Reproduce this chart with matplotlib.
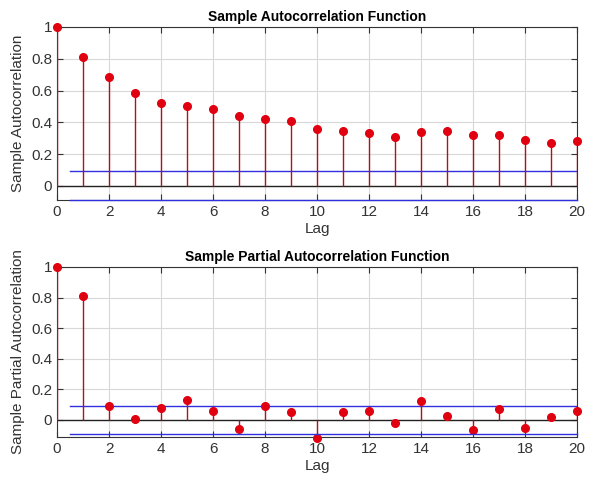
import numpy as np
import matplotlib
matplotlib.use("Agg")
import matplotlib.pyplot as plt

plt.rcParams['font.family'] = ['Liberation Sans', 'DejaVu Sans']

lags = list(range(21))
acf = [1.0, 0.813, 0.686, 0.585, 0.522, 0.503, 0.486, 0.438, 0.423, 0.411,
       0.358, 0.342, 0.331, 0.31, 0.34, 0.346, 0.317, 0.319, 0.287, 0.27, 0.283]
pacf = [1.0, 0.813, 0.087, 0.007, 0.076, 0.126, 0.054, -0.063, 0.087, 0.048,
        -0.12, 0.05, 0.057, -0.024, 0.124, 0.022, -0.07, 0.07, -0.057, 0.02, 0.054]
acf_bound = 0.09
pacf_bound = 0.0915

fig = plt.figure(figsize=(5.96, 4.83), dpi=100)
ax1 = fig.add_axes([57 / 596, 1 - 200 / 483, 520 / 596, 173 / 483])
ax2 = fig.add_axes([57 / 596, 1 - 437 / 483, 520 / 596, 170 / 483])

panels = [
    (ax1, acf, acf_bound, -0.0895, 'Sample Autocorrelation', 'Sample Autocorrelation Function'),
    (ax2, pacf, pacf_bound, -0.113, 'Sample Partial Autocorrelation', 'Sample Partial Autocorrelation Function'),
]

for ax, vals, bound, ymin, ylab, title in panels:
    ax.vlines(lags, 0, vals, color='#b01020', lw=1.0, zorder=3)
    ax.plot(lags, vals, 'o', color='#e00010', ms=5.5, zorder=4, clip_on=False)
    ax.axhline(0, color='#222222', lw=1.0, zorder=2)
    ax.plot([0.5, 20], [bound, bound], color='#3030e0', lw=1.0, zorder=2)
    ax.plot([0.5, 20], [-bound, -bound], color='#3030e0', lw=1.0, zorder=5,
            clip_on=False)

    ax.set_xlim(0, 20)
    ax.set_ylim(ymin, 1)
    ax.set_xticks(range(0, 21, 2))
    ax.set_yticks([0, 0.2, 0.4, 0.6, 0.8, 1])
    ax.set_yticklabels(['0', '0.2', '0.4', '0.6', '0.8', '1'])
    ax.grid(True, color='#d8d8d8', lw=0.8)
    ax.set_axisbelow(True)
    ax.tick_params(direction='in', right=True, top=True, labelsize=11,
                   colors='#333333', length=4)
    for sp in ax.spines.values():
        sp.set_color('#333333')
        sp.set_linewidth(0.8)
    ax.set_xlabel('Lag', fontsize=11, color='#333333', labelpad=2)
    ax.set_ylabel(ylab, fontsize=11, color='#333333', labelpad=4)
    ax.set_title(title, fontsize=10, fontweight='bold', pad=4)

fig.savefig('out.png', dpi=100)
